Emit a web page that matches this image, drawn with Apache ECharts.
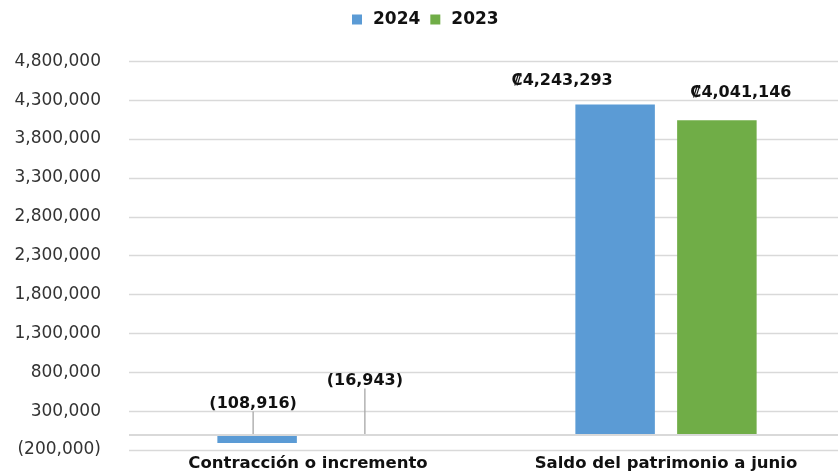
<!DOCTYPE html>
<html>
<head>
<meta charset="utf-8">
<script src="https://cdn.jsdelivr.net/npm/echarts@6/dist/echarts.min.js"></script>
<style>
  html, body { margin: 0; padding: 0; background: #fff; overflow: hidden; }
  /* el área del gráfico original queda recortada por la derecha */
  #chart { width: 846px; height: 472px; }
</style>
</head>
<body>
<div id="chart"></div>
<script>
// datos del gráfico
const categories = ['Contracción o incremento', 'Saldo del patrimonio a junio'];
const seriesNames = ['2024', '2023'];
const values2024 = [-108916, 4243293];
const values2023 = [-16943, 4041146];
// eje Y
const yMin = -200000;
const yMax = 4800000;
const yStep = 500000;

const fontFamily = '"DejaVu Sans", "Noto Sans", sans-serif';

const fmt = (v) => Math.abs(v).toLocaleString('en-US');
const axisFormatter = (v) => v < 0 ? '(' + fmt(v) + ')' : fmt(v);
const labelFormatter = (p) => p.value < 0 ? '(' + fmt(p.value) + ')' : '₡' + fmt(p.value);

// desplazamiento de etiquetas como en el original
const offsets2024 = [[-4, -18], [-53, -11]];
const offsets2023 = [[6, -41], [24, -14]];

const makeSeries = (name, data, color, offsets) => ({
  name,
  type: 'bar',
  barWidth: 79.5,
  barGap: '28%',
  itemStyle: {color},
  data: data.map((v, i) => ({
    value: v,
    labelLine: {show: i === 0, lineStyle: {color: '#a6a6a6', width: 1.3}}
  })),
  label: {
    show: true,
    position: 'top',
    distance: 5,
    formatter: labelFormatter,
    fontFamily,
    fontSize: 16,
    fontWeight: 'bold',
    color: '#111'
  },
  labelLayout: (params) => ({
    dx: offsets[params.dataIndex][0],
    dy: offsets[params.dataIndex][1]
  })
});

const chart = echarts.init(document.getElementById('chart'));
const s2024 = makeSeries(seriesNames[0], values2024, '#5b9bd5', offsets2024);
// línea en cero
s2024.markLine = {
  silent: true,
  symbol: 'none',
  z: 10,
  label: {show: false},
  lineStyle: {color: '#d9d9d9', width: 2, type: 'solid'},
  data: [{yAxis: 0}]
};
const s2023 = makeSeries(seriesNames[1], values2023, '#70ad47', offsets2023);

chart.setOption({
  animation: false,
  legend: {
    data: seriesNames,
    left: 347,
    top: 6,
    itemWidth: 10,
    itemHeight: 10,
    itemGap: 10,
    icon: 'rect',
    textStyle: {
      fontFamily,
      fontSize: 17,
      fontWeight: 'bold',
      color: '#111',
      padding: [0, 0, 0, 6]
    }
  },
  grid: {left: 129, top: 61.3, width: 716, height: 389.4},
  xAxis: {
    type: 'category',
    data: categories,
    axisLine: {show: false, onZero: false},
    axisTick: {show: false},
    axisLabel: {
      margin: 5,
      fontFamily,
      fontSize: 16.5,
      fontWeight: 'bold',
      color: '#111'
    }
  },
  yAxis: {
    type: 'value',
    min: yMin,
    max: yMax,
    interval: yStep,
    axisLine: {show: false},
    axisTick: {show: false},
    splitLine: {lineStyle: {color: '#d9d9d9', width: 1.3}},
    axisLabel: {
      margin: 28,
      formatter: axisFormatter,
      fontFamily,
      fontSize: 17,
      color: '#333'
    }
  },
  series: [s2024, s2023]
});
</script>
</body>
</html>
